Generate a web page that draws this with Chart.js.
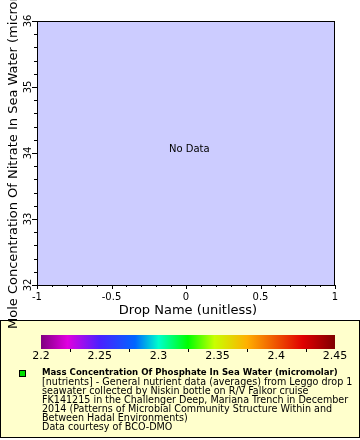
<!DOCTYPE html>
<html>
<head>
<meta charset="utf-8">
<script src="https://cdn.jsdelivr.net/npm/chart.js@4.4.1/dist/chart.umd.min.js"></script>
<style>
  html, body { margin: 0; padding: 0; background: #fff; }
  canvas { display: block; }
</style>
</head>
<body>
<canvas id="myChart" width="360" height="440"></canvas>
<script>
// the dataset is empty -> "No Data"
const dropName = []
const nitrate = []
const phosphate = []

const xTicks = [-1, -0.5, 0, 0.5, 1]
const yTicks = [32, 33, 34, 35, 36]
const cbTicks = [2.2, 2.25, 2.3, 2.35, 2.4, 2.45]
const cbColors = ["#800080", "#e000e0", "#4a20ff", "#0066ff", "#00ffcc", "#00ff00", "#c8ff00", "#ffb000", "#e00000", "#800000"]
const cbStops = [0, 0.09, 0.2, 0.32, 0.4, 0.5, 0.59, 0.7, 0.89, 1]

const xTitle = "Drop Name (unitless)"
const yTitle = "Mole Concentration Of Nitrate In Sea Water (micromolar)"
const legendTitle = "Mass Concentration Of Phosphate In Sea Water (micromolar)"
const legendLines = [
    "[nutrients] - General nutrient data (averages) from Leggo drop 1",
    "seawater collected by Niskin bottle on R/V Falkor cruise",
    "FK141215 in the Challenger Deep, Mariana Trench in December",
    "2014 (Patterns of Microbial Community Structure Within and",
    "Between Hadal Environments)",
    "Data courtesy of BCO-DMO"
]

const FONT = "DejaVu Sans"

// shrink a font until the text has the wanted width
function fitFont(ctx, text, weight, size, maxW) {
    ctx.font = weight + size + 'px "' + FONT + '"'
    const w = ctx.measureText(text).width
    if (w > maxW) ctx.font = weight + (size * maxW / w).toFixed(2) + 'px "' + FONT + '"'
}

const erddapLook = {
    id: 'erddapLook',
    beforeDraw(chart) {
        const {ctx, chartArea: a} = chart
        ctx.save()
        ctx.fillStyle = '#fff'
        ctx.fillRect(0, 0, chart.width, chart.height)
        ctx.fillStyle = '#ccccff'
        ctx.fillRect(a.left, a.top, a.right - a.left, a.bottom - a.top)
        ctx.restore()
    },
    afterDraw(chart) {
        const {ctx, chartArea: a} = chart
        const xs = chart.scales.x, ys = chart.scales.y
        ctx.save()
        ctx.strokeStyle = '#000'
        ctx.lineWidth = 1
        ctx.strokeRect(a.left + 0.5, a.top + 0.5, a.right - a.left - 1, a.bottom - a.top)

        // x ticks (major every 0.5, minor every 0.1)
        ctx.beginPath()
        for (let i = 0; i <= 20; i++) {
            const v = -1 + i * 0.1
            const px = Math.round(xs.getPixelForValue(v)) + 0.5
            const len = i % 5 === 0 ? 4 : 2
            ctx.moveTo(px, a.bottom)
            ctx.lineTo(px, a.bottom + len)
        }
        // y ticks (major every 1, minor every 0.2)
        for (let i = 0; i <= 20; i++) {
            const v = 32 + i * 0.2
            const py = Math.round(ys.getPixelForValue(v)) + 0.5
            const len = i % 5 === 0 ? 5 : 3
            ctx.moveTo(a.left, py)
            ctx.lineTo(a.left - len, py)
        }
        ctx.stroke()

        ctx.fillStyle = '#000'
        ctx.font = '10px "' + FONT + '"'
        ctx.textAlign = 'center'
        ctx.textBaseline = 'middle'
        xTicks.forEach(v => ctx.fillText(String(v), xs.getPixelForValue(v), 297))
        yTicks.forEach(v => {
            ctx.save()
            ctx.translate(28, ys.getPixelForValue(v))
            ctx.rotate(-Math.PI / 2)
            ctx.fillText(String(v), 0, 0)
            ctx.restore()
        })

        ctx.font = '13px "' + FONT + '"'
        ctx.fillText(xTitle, 188, 311)

        ctx.font = '10px "' + FONT + '"'
        ctx.textAlign = 'left'
        ctx.fillText("No Data", 169, 149)

        // legend box
        ctx.fillStyle = '#ffffcc'
        ctx.fillRect(0, 320, 360, 118)
        ctx.strokeRect(0.5, 320.5, 359, 117)

        // colour bar
        const gx0 = 41, gx1 = 335
        const grad = ctx.createLinearGradient(gx0, 0, gx1, 0)
        cbColors.forEach((c, i) => grad.addColorStop(cbStops[i], c))
        ctx.fillStyle = grad
        ctx.fillRect(gx0, 335, gx1 - gx0, 14)
        const cbx = v => gx0 + (v - cbTicks[0]) / (cbTicks[cbTicks.length - 1] - cbTicks[0]) * (gx1 - gx0)
        ctx.beginPath()
        for (let i = 0; i < cbTicks.length - 1; i++) {
            const px = Math.round(cbx((cbTicks[i] + cbTicks[i + 1]) / 2)) + 0.5
            ctx.moveTo(px, 349)
            ctx.lineTo(px, 352)
        }
        ctx.stroke()
        ctx.fillStyle = '#000'
        ctx.font = '11px "' + FONT + '"'
        ctx.textAlign = 'center'
        cbTicks.forEach(v => ctx.fillText(String(v), cbx(v), 356))

        // legend marker + text
        const ds = chart.data.datasets[0]
        ctx.fillStyle = ds.backgroundColor
        ctx.fillRect(20, 371, 6, 6)
        ctx.strokeRect(19.5, 370.5, 6, 6)
        ctx.fillStyle = '#000'
        ctx.textAlign = 'left'
        fitFont(ctx, legendTitle, 'bold ', 10, 296)
        ctx.fillText(legendTitle, 42, 373)
        fitFont(ctx, legendLines[0], '', 10, 311)
        legendLines.forEach((t, i) => ctx.fillText(t, 42, 382 + i * 9))

        // y title (overlaps the legend box)
        ctx.font = '13px "' + FONT + '"'
        ctx.save()
        ctx.translate(17, 329)
        ctx.rotate(-Math.PI / 2)
        ctx.textBaseline = 'alphabetic'
        ctx.fillText(yTitle, 0, 0)
        ctx.restore()
        ctx.restore()
    }
}

new Chart("myChart", {
    type: "scatter",
    data: {
        datasets: [{
            label: legendTitle,
            data: phosphate.map((p, i) => ({x: dropName[i], y: nitrate[i]})),
            backgroundColor: '#00e000',
            borderColor: '#000',
            pointRadius: 3
        }]
    },
    options: {
        responsive: false,
        animation: false,
        layout: {padding: {top: 21, right: 25, left: 0, bottom: 0}},
        plugins: {
            title: {display: false},
            legend: {display: false},
            tooltip: {enabled: false}
        },
        scales: {
            x: {
                type: 'linear', min: -1, max: 1,
                ticks: {display: false},
                grid: {display: false},
                border: {display: false},
                afterFit: s => { s.height = 155 }
            },
            y: {
                type: 'linear', min: 32, max: 36,
                ticks: {display: false},
                grid: {display: false},
                border: {display: false},
                afterFit: s => { s.width = 37 }
            }
        }
    },
    plugins: [erddapLook]
});
</script>
</body>
</html>
